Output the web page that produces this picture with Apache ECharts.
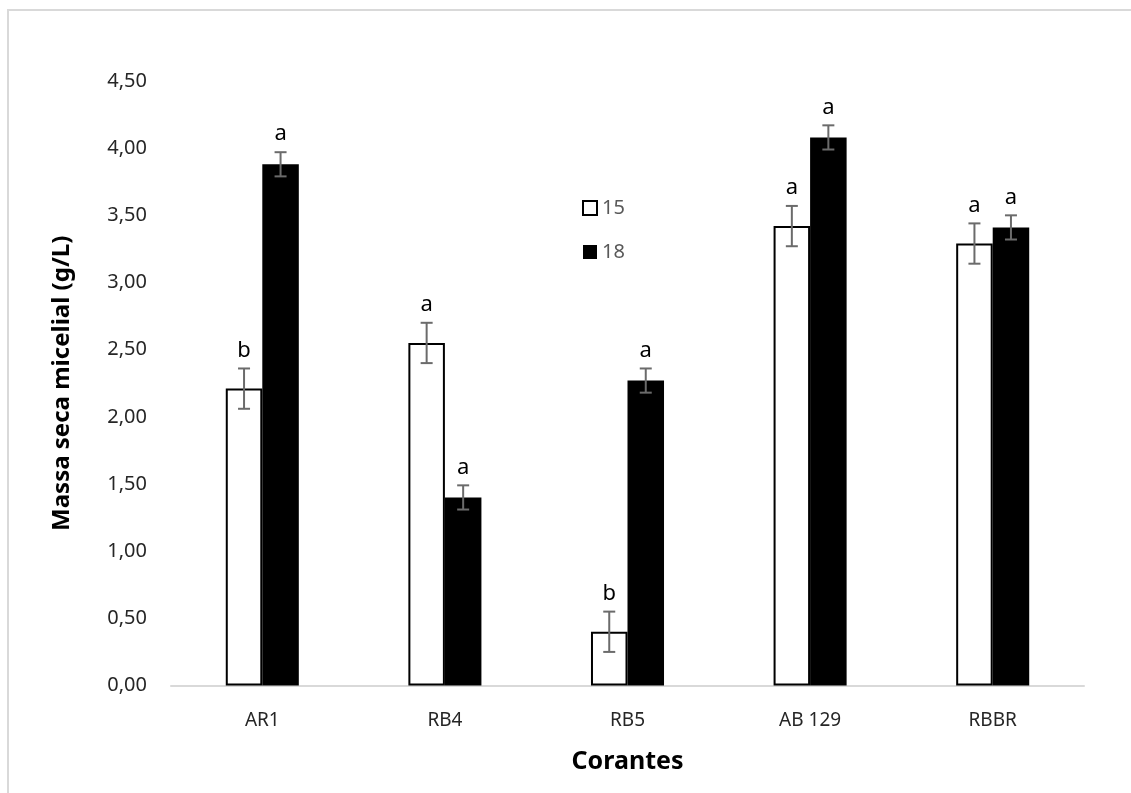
<!DOCTYPE html>
<html>
<head>
<meta charset="utf-8">
<script src="https://cdn.jsdelivr.net/npm/echarts@6/dist/echarts.min.js"></script>
<style>html,body{margin:0;padding:0;background:#fff;}#c{width:1131px;height:793px;}</style>
</head>
<body>
<div id="c"></div>
<script>
var categories = ['AR1', 'RB4', 'RB5', 'AB 129', 'RBBR'];
var seriesNames = ['15', '18'];
var values15 = [2.21, 2.55, 0.40, 3.42, 3.29];
var values18 = [3.88, 1.40, 2.27, 4.08, 3.41];
var err15 = [0.15, 0.15, 0.15, 0.15, 0.15];
var err18 = [0.09, 0.09, 0.09, 0.09, 0.09];
var letters15 = ['b', 'a', 'b', 'a', 'a'];
var letters18 = ['a', 'a', 'a', 'a', 'a'];

var FONT = '"Noto Sans", "Open Sans", sans-serif';

function errData(vals, errs) {
  return vals.map(function (v, i) { return [i, v, errs[i]]; });
}

function makeErr(sign, lets) {
  return function (params, api) {
    var idx = api.value(0), v = api.value(1), e = api.value(2);
    var letter = lets[params.dataIndex];
    var band = api.size([1, 0])[0];
    var c = api.coord([idx, v]);
    var x = c[0] + sign * 0.1 * band;
    var top = api.coord([idx, v + e])[1];
    var bot = api.coord([idx, v - e])[1];
    var hw = 6;
    var st = { stroke: '#6b6b6b', lineWidth: 2 };
    return {
      type: 'group',
      children: [
        { type: 'line', shape: { x1: x, y1: top, x2: x, y2: bot }, style: st },
        { type: 'line', shape: { x1: x - hw, y1: top, x2: x + hw, y2: top }, style: st },
        { type: 'line', shape: { x1: x - hw, y1: bot, x2: x + hw, y2: bot }, style: st },
        { type: 'text', style: { text: letter, x: x, y: top - 7, align: 'center', verticalAlign: 'bottom',
            fill: '#000', fontSize: 22, fontFamily: FONT } }
      ]
    };
  };
}

var chart = echarts.init(document.getElementById('c'));
chart.setOption({
  animation: false,
  backgroundColor: '#fff',
  graphic: [{
    type: 'rect', shape: { x: 8, y: 10, width: 1400, height: 1000 },
    style: { fill: 'none', stroke: '#d9d9d9', lineWidth: 2 }, silent: true, z: -10
  }],
  grid: { left: 171, right: 47, top: 81, bottom: 107.5, containLabel: false },
  legend: {
    orient: 'vertical', left: 577, top: 193, itemWidth: 14, itemHeight: 14, itemGap: 24,
    icon: 'rect',
    textStyle: { fontSize: 20, color: '#595959', fontFamily: FONT, padding: [0, 0, 0, 0] },
    data: [
      { name: seriesNames[0], itemStyle: { color: '#fff', borderColor: '#000', borderWidth: 2 } },
      { name: seriesNames[1], itemStyle: { color: '#000' } }
    ]
  },
  xAxis: {
    type: 'category', data: categories,
    name: 'Corantes', nameLocation: 'middle', nameGap: 64,
    nameTextStyle: { fontSize: 25, fontWeight: 'bold', color: '#000', fontFamily: FONT },
    axisLine: { lineStyle: { color: '#d9d9d9', width: 2 } },
    axisTick: { show: false },
    axisLabel: { fontSize: 19, color: '#262626', fontFamily: FONT, margin: 26 }
  },
  yAxis: {
    type: 'value', min: 0, max: 4.5, interval: 0.5,
    name: 'Massa seca micelial (g/L)', nameLocation: 'middle', nameGap: 97,
    nameTextStyle: { fontSize: 24, fontWeight: 'bold', color: '#000', fontFamily: FONT },
    axisLine: { show: false }, axisTick: { show: false }, splitLine: { show: false },
    axisLabel: { fontSize: 20, color: '#262626', fontFamily: FONT, margin: 24,
      formatter: function (v) { return v.toFixed(2).replace('.', ','); } }
  },
  series: [
    { name: seriesNames[0], type: 'bar', data: values15, barGap: '0%', barCategoryGap: '60%',
      itemStyle: { color: '#fff', borderColor: '#000', borderWidth: 2 } },
    { name: seriesNames[1], type: 'bar', data: values18, barGap: '0%', barCategoryGap: '60%',
      itemStyle: { color: '#000' } },
    { type: 'custom', renderItem: makeErr(-1, letters15), data: errData(values15, err15),
      encode: { x: 0, y: 1 }, z: 5, silent: true },
    { type: 'custom', renderItem: makeErr(1, letters18), data: errData(values18, err18),
      encode: { x: 0, y: 1 }, z: 5, silent: true }
  ]
});
</script>
</body>
</html>
